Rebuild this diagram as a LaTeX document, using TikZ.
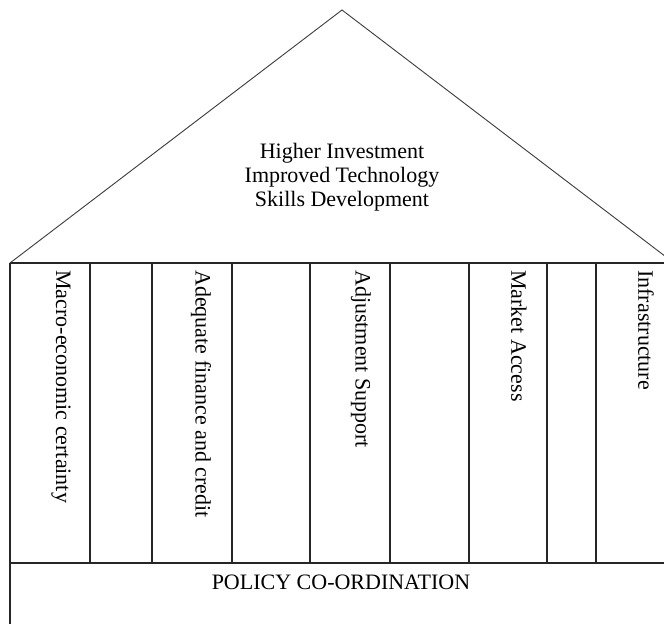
\documentclass[tikz,border=0pt]{standalone}
\usepackage{fontspec}
\setmainfont{Liberation Serif}
\begin{document}
\begin{tikzpicture}[x=0.75pt,y=-0.75pt,
  frame/.style={draw=black!85,line width=0.8pt},
  roofline/.style={draw=black!75,line width=0.7pt},
  label/.style={font=\fontsize{16.5}{18}\selectfont,inner sep=0pt,text=black},
  pillarlabel/.style={label,rotate=-90,anchor=west}]
\useasboundingbox (0,0) rectangle (664,624);
\clip (0,0) rectangle (664,624);
% roof
\coordinate (apex) at (342,10);
\coordinate (eaveL) at (10,263);
\coordinate (eaveR) at (674,263);
\draw[roofline] (eaveL) -- (apex) -- (eaveR);
% pillar frame
\draw[frame] (eaveL) -- (eaveR);
\draw[frame] (10,563) -- (674,563);
\draw[frame] (10,263) -- (10,624);
\foreach \x in {90,152,232,310,390,469,547,596}
  \draw[frame] (\x,263) -- (\x,563);
% roof text
\node[label,align=center] (roof) at (342,177)
  {Higher Investment\\Improved Technology\\Skills Development};
% pillar labels
\node[pillarlabel] (p1) at (61,270) {Macro-economic certainty};
\node[pillarlabel] (p2) at (201,270) {Adequate finance and credit};
\node[pillarlabel] (p3) at (361,270) {Adjustment Support};
\node[pillarlabel] (p4) at (519,270) {Market Access};
\node[pillarlabel] (p5) at (646,270) {Infrastructure};
% base
\node[label,anchor=base] (base) at (341,589) {POLICY CO-ORDINATION};
\end{tikzpicture}
\end{document}
